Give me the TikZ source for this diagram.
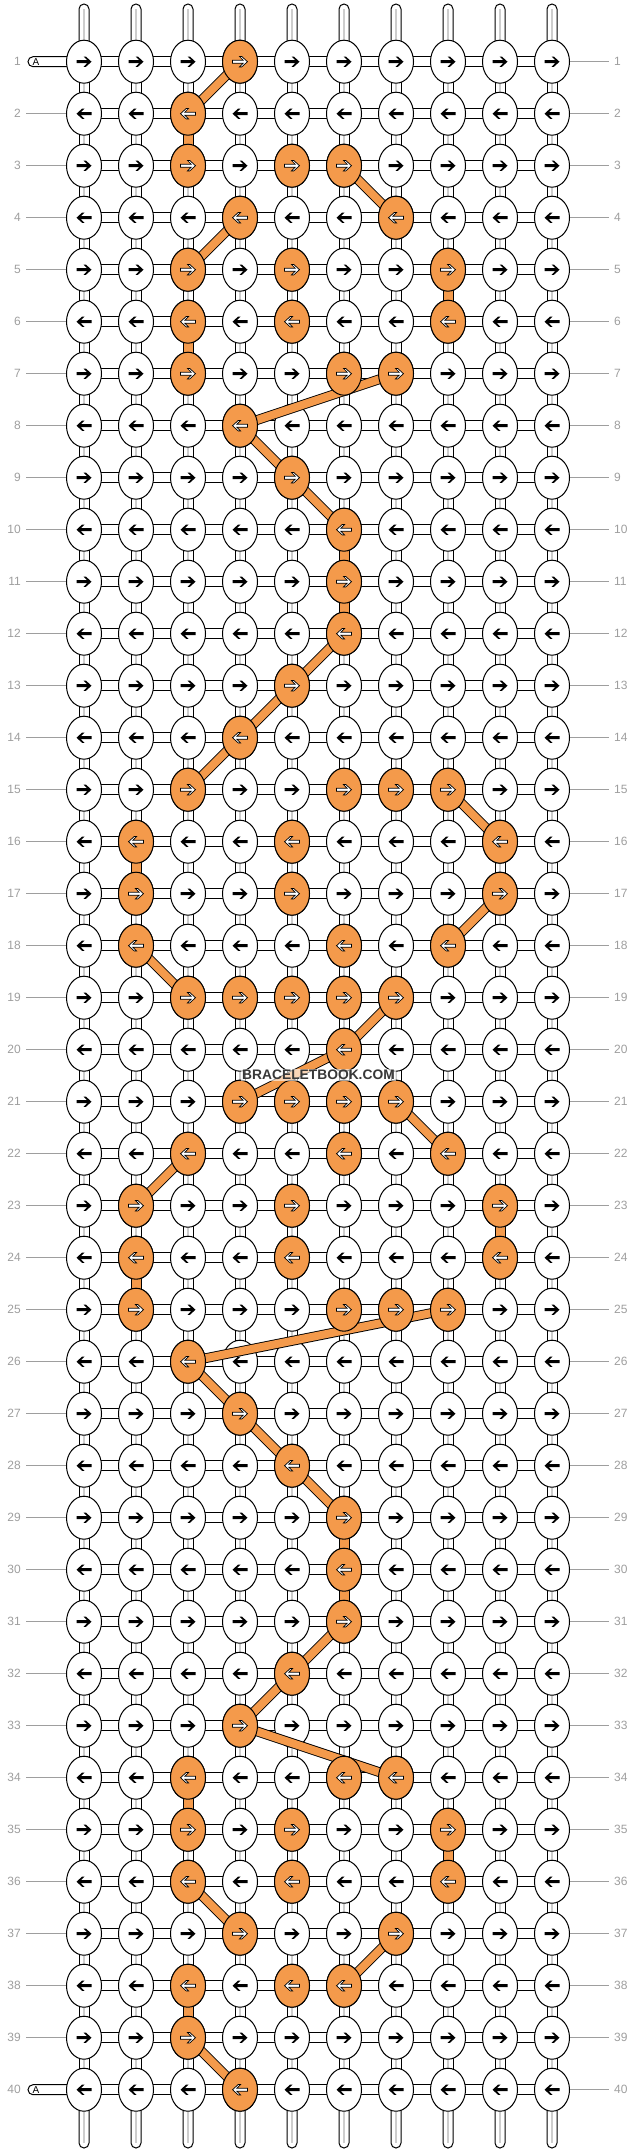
\documentclass[tikz,border=0pt]{standalone}
\usepackage{fontspec}
\setmainfont{Liberation Sans}
\usetikzlibrary{shapes.geometric,calc}
\pgfdeclarelayer{bg}
\pgfsetlayers{bg,main}
\definecolor{bborange}{RGB}{244,154,75}
\definecolor{bbgray}{RGB}{158,158,158}
\definecolor{bbcore}{RGB}{205,205,205}

\begin{document}
\begin{tikzpicture}[x=1pt, y=-1pt,
  knot/.style={draw, ellipse, fill=white, line width=1pt, minimum width=35pt, minimum height=43pt, inner sep=0pt},
  knotsel/.style={knot, fill=bborange},
  link/.style={draw, fill=white, line width=1pt},
  vcore/.style={bbcore, line width=2pt},
  band/.style={line width=0.9pt, double=bborange, double distance=8pt},
  vsel/.style={draw, fill=bborange, line width=1pt},
  guide/.style={bbgray, line width=1pt},
  num/.style={text=bbgray, font=\fontsize{12}{12}\selectfont, inner sep=0pt},
  arr/.pic={\path[pic actions] (-7.5,-1.5) -- (3.2,-1.5) -- (-0.5,-5.2) -- (1.8,-5.2) -- (7.5,0) -- (1.8,5.2) -- (-0.5,5.2) -- (3.2,1.5) -- (-7.5,1.5) -- cycle;}
]
\useasboundingbox (0,0) rectangle (636,2152);

% 结点
\foreach \r in {1,...,40} {
  \pgfmathtruncatemacro\kdir{1-2*mod(\r+1,2)}
  \foreach \c in {1,...,10} {
    \node[knot] (k-\r-\c) at ({32+52*\c},{9.7+52*\r}) {};
    \pic[fill=black, xscale=\kdir] at (k-\r-\c) {arr};
  }
}

% 线
\begin{pgfonlayer}{bg}
\foreach \c in {1,...,10} {
  \coordinate (top-\c) at ({32+52*\c},4);
  \coordinate (bot-\c) at ({32+52*\c},2148);
  \draw[link, rounded corners=5pt] ([xshift=-5pt]top-\c) rectangle ([xshift=5pt]k-1-\c.center);
  \draw[vcore] ([yshift=-5pt]top-\c) -- (k-1-\c.center);
  \draw[link, rounded corners=5pt] ([xshift=-5pt]k-40-\c.center) rectangle ([xshift=5pt]bot-\c);
  \draw[vcore] (k-40-\c.center) -- ([yshift=5pt]bot-\c);
}
\foreach \r [evaluate=\r as \rn using int(\r+1)] in {1,...,39}
  \foreach \c in {1,...,10} {
    \draw[link] ([xshift=-5pt]k-\r-\c.center) rectangle ([xshift=5pt]k-\rn-\c.center);
    \draw[vcore] (k-\r-\c.center) -- (k-\rn-\c.center);
  }
\foreach \r in {1,...,40} {
  \foreach \c [evaluate=\c as \cn using int(\c+1)] in {1,...,9} {
    \draw[link] ([yshift=-5pt]k-\r-\c.center) rectangle ([yshift=5pt]k-\r-\cn.center);
  }
}
\foreach \r in {1,40} {
  \coordinate (aend-\r) at (28,{9.7+52*\r});
  \draw[link, rounded corners=5pt] ([yshift=5pt]aend-\r) rectangle ([yshift=-5pt]k-\r-1.center);
  \node[font=\fontsize{10}{10}\selectfont, inner sep=0pt] (alab-\r) at (36,{9.7+52*\r}) {A};
}
\end{pgfonlayer}

% 行号
\foreach \r in {1,...,40} {
  \node[num, anchor=east] (lnum-\r) at (21,{9.7+52*\r}) {\r};
  \node[num, anchor=west] (rnum-\r) at (614,{9.7+52*\r}) {\r};
  \draw[guide] (k-\r-10.east) -- ([xshift=-5pt]rnum-\r.west);
}
\foreach \r in {2,...,39}
  \draw[guide] (k-\r-1.west) -- ([xshift=5pt]lnum-\r.east);

% 彩线
\foreach \r/\c [evaluate=\r as \rn using int(\r+1)] in {2/3, 5/8, 6/3, 10/6, 11/6, 16/2, 23/9, 24/2, 29/6, 30/6, 34/3, 35/8, 38/3}
  \draw[vsel] ([xshift=-5pt]k-\r-\c.center) rectangle ([xshift=5pt]k-\rn-\c.center);
\foreach \ra/\ca/\rb/\cb in {1/4/2/3, 3/6/4/7, 4/4/5/3, 7/7/8/4, 8/4/9/5, 9/5/10/6, 12/6/13/5, 13/5/14/4, 14/4/15/3, 15/8/16/9, 17/9/18/8, 18/2/19/3, 19/7/20/6, 20/6/21/4, 21/7/22/8, 22/3/23/2, 25/8/26/3, 26/3/27/4, 27/4/28/5, 28/5/29/6, 31/6/32/5, 32/5/33/4, 33/4/34/7, 36/3/37/4, 37/7/38/6, 39/3/40/4}
  \draw[band] (k-\ra-\ca.center) -- (k-\rb-\cb.center);

\foreach \r/\cols in {1/{4}, 2/{3}, 3/{3,5,6}, 4/{4,7}, 5/{3,5,8}, 6/{3,5,8}, 7/{3,6,7}, 8/{4}, 9/{5}, 10/{6}, 11/{6}, 12/{6}, 13/{5}, 14/{4}, 15/{3,6,7,8}, 16/{2,5,9}, 17/{2,5,9}, 18/{2,6,8}, 19/{3,4,5,6,7}, 20/{6}, 21/{4,5,6,7}, 22/{3,6,8}, 23/{2,5,9}, 24/{2,5,9}, 25/{2,6,7,8}, 26/{3}, 27/{4}, 28/{5}, 29/{6}, 30/{6}, 31/{6}, 32/{5}, 33/{4}, 34/{3,6,7}, 35/{3,5,8}, 36/{3,5,8}, 37/{4,7}, 38/{3,5,6}, 39/{3}, 40/{4}} {
  \pgfmathtruncatemacro\kdir{1-2*mod(\r+1,2)}
  \foreach \c in \cols {
    \node[knotsel] (s-\r-\c) at (k-\r-\c) {};
    \pic[fill=white, draw=black, line width=0.7pt, xscale=\kdir] at (s-\r-\c) {arr};
  }
}

% 水印
\node[font=\bfseries\fontsize{13.8}{14}\selectfont, text=black!78, fill=white, fill opacity=0.6, text opacity=1, inner sep=1.5pt] (mark) at (318.5,1075) {BRACELETBOOK.COM};
\end{tikzpicture}
\end{document}
